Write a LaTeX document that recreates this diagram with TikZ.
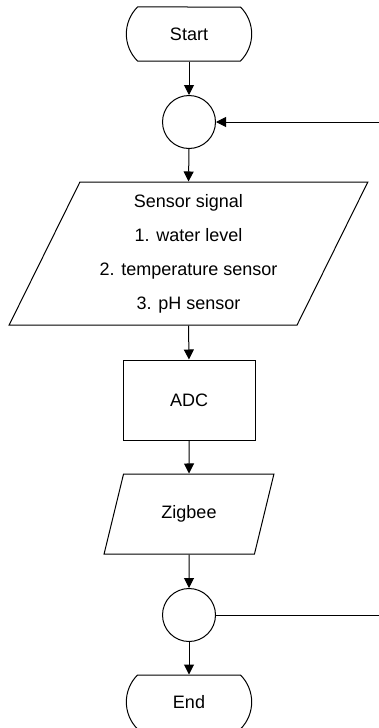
\documentclass[tikz,border=0pt]{standalone}
\usepackage{fontspec}
\setmainfont{Liberation Sans}
\usetikzlibrary{arrows.meta,shapes.geometric,shapes.misc,positioning}

\begin{document}
\begin{tikzpicture}
        [
            x=1pt, y=-1pt,
            font=\fontsize{18}{22}\selectfont,
            terminal/.style={rounded rectangle, rounded rectangle arc length=90, draw, line width=1pt, minimum width=132pt, minimum height=54pt},
            joint/.style={circle, draw, line width=1pt, minimum size=53pt, inner sep=0pt},
            process/.style={rectangle, draw, line width=1pt, minimum width=132pt, minimum height=80pt},
            io/.style={trapezium, trapezium left angle=64, trapezium right angle=116, trapezium stretches=true, draw, line width=1pt, inner sep=0pt},
            flow/.style={-{Triangle[length=10pt,width=10pt]}, line width=1pt},
        ]
            \useasboundingbox (0,0) rectangle (379,728);
            \node[terminal] (Start) at (189, 34) {Start};
            \node[joint] (J1) at (189, 122) {};
            \node[io, minimum width=359pt, minimum height=143pt, align=center, font=\fontsize{18}{34}\selectfont] (Sensor) at (188.5, 253.5)
                {Sensor signal\\1. water level\\2. temperature sensor\\3. pH sensor};
            \node[process] (ADC) at (189, 400) {ADC};
            \node[io, minimum width=170pt, minimum height=80pt] (Zigbee) at (189, 514) {Zigbee};
            \node[joint] (J2) at (189, 615) {};
            \node[terminal] (End) at (189, 702) {End};
            \coordinate (LoopIn) at (379, 122);
            \coordinate (LoopOut) at (379, 615);

            \draw[flow] (Start.south) -- (J1.north);
            \draw[flow] (LoopIn) -- (J1.east);
            \draw[flow] (J1.south) -- (Sensor.north);
            \draw[flow] (Sensor.south) -- (ADC.north);
            \draw[flow] (ADC.south) -- (Zigbee.north);
            \draw[flow] (Zigbee.south) -- (J2.north);
            \draw[line width=1pt] (J2.east) -- (LoopOut);
            \draw[flow] (J2.south) -- (End.north);
        \end{tikzpicture}
\end{document}
